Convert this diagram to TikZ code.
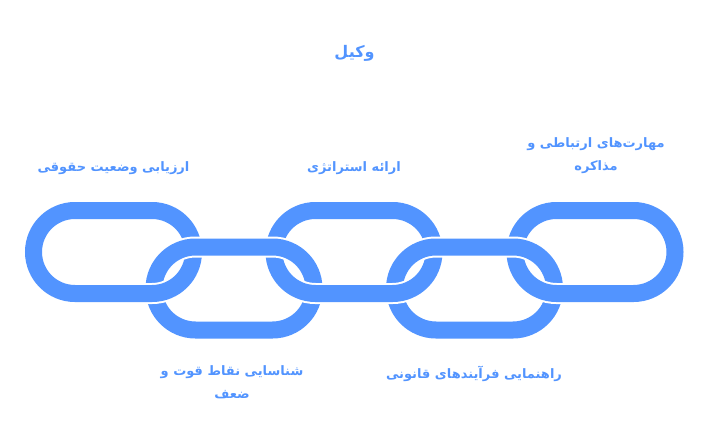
\documentclass[tikz,border=0pt]{standalone}
\usepackage{fontspec}
\newfontfamily\fa[Script=Arabic]{DejaVu Sans}
\TeXXeTstate=1
\definecolor{linkblue}{RGB}{82,148,255}
\tikzset{
  linkwhite/.style={draw=white, line width=21pt},
  linkblue/.style={draw=linkblue, line width=17pt},
  lbl/.style={text=linkblue, font=\fa\bfseries\fontsize{13}{23}\selectfont, align=center, inner sep=0pt},
  ttl/.style={text=linkblue, font=\fa\bfseries\fontsize{16}{20}\selectfont, inner sep=0pt}
}
\newcommand\chainlink[3]{%
  \draw[#1] (#2-38.5,#3-41.5) -- (#2+38.5,#3-41.5)
    arc[start angle=90, end angle=-90, radius=41.5pt]
    -- (#2-38.5,#3+41.5)
    arc[start angle=-90, end angle=-270, radius=41.5pt] -- cycle;}
\begin{document}
\begin{tikzpicture}[x=1pt,y=-1pt]
\useasboundingbox (0,0) rectangle (709,433);
% upper links
\foreach \cx in {113.5,354,595}{\chainlink{linkwhite}{\cx}{252}\chainlink{linkblue}{\cx}{252}}
% lower links
\foreach \cx in {234,474.5}{\chainlink{linkwhite}{\cx}{288.5}\chainlink{linkblue}{\cx}{288.5}}
% upper links' lower parts over lower links
\begin{scope}
\clip (0,266) rectangle (709,433);
\foreach \cx in {113.5,354,595}{\chainlink{linkwhite}{\cx}{252}\chainlink{linkblue}{\cx}{252}}
\end{scope}
\node[ttl] (title) at (354.5,53) {\beginR وکیل\endR};
\node[lbl] (l1) at (113.5,168) {\beginR ارزیابی وضعیت حقوقی\endR};
\node[lbl] (l3) at (354,168) {\beginR ارائه استراتژی\endR};
\node[lbl] (l5) at (596,156) {\beginR مهارت‌های ارتباطی و\endR\\\beginR مذاکره\endR};
\node[lbl] (l2) at (232,382.5) {\beginR شناسایی نقاط قوت و\endR\\\beginR ضعف\endR};
\node[lbl] (l4) at (474,374) {\beginR راهنمایی فرآیندهای قانونی\endR};
\end{tikzpicture}
\end{document}
